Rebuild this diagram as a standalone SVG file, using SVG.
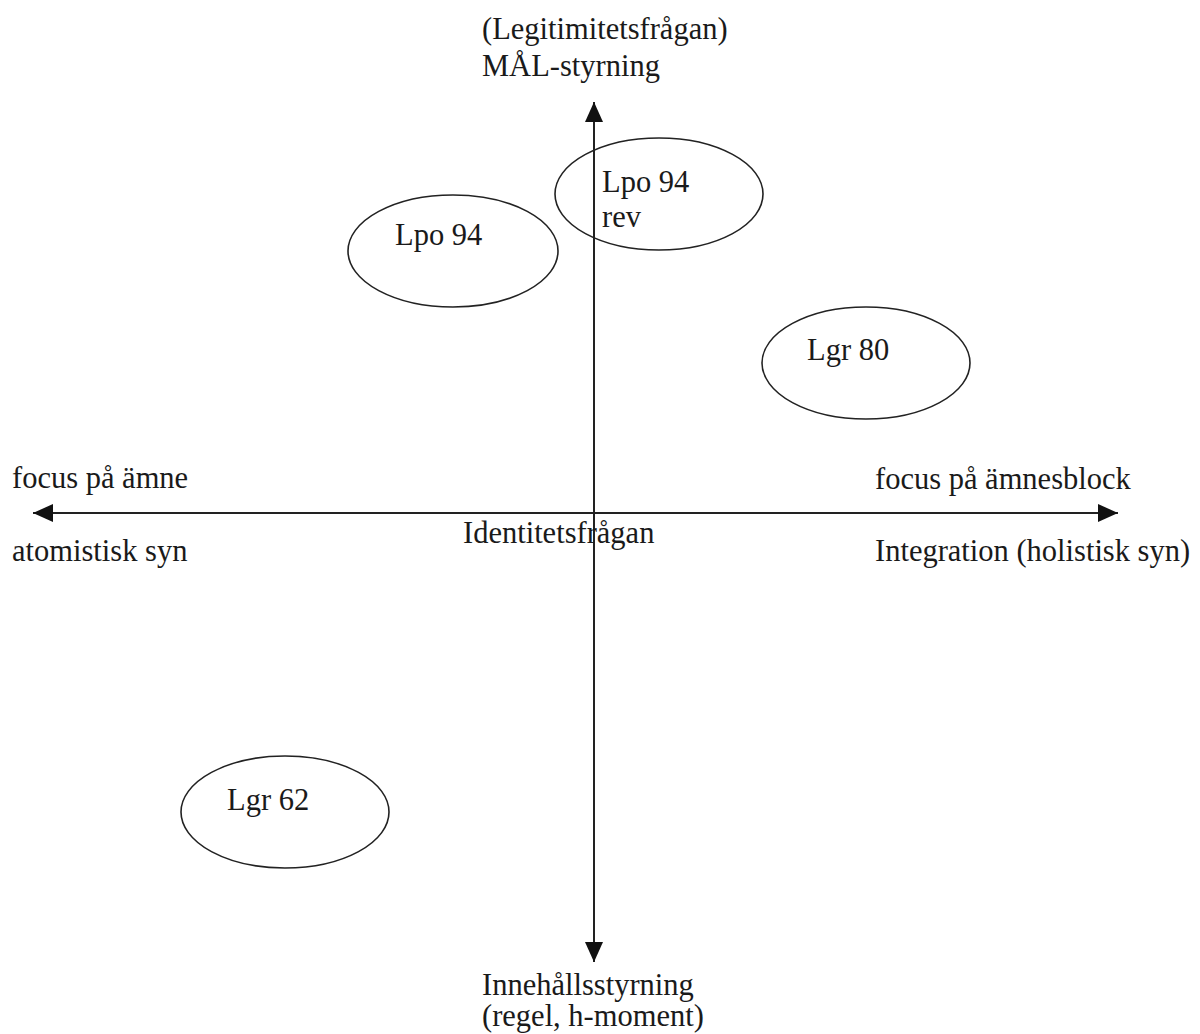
<svg xmlns="http://www.w3.org/2000/svg" width="1200" height="1034" viewBox="0 0 1200 1034">
<style>
text{font-family:"Liberation Serif","Times New Roman",serif;font-size:30.5px;fill:#1a1a1a}
.node ellipse{fill:none;stroke:#222;stroke-width:1.6}
.axis{stroke:#222;stroke-width:2;fill:none}
</style>
<defs>
<marker id="ah" viewBox="0 0 20 18" refX="20" refY="9" markerWidth="20" markerHeight="18" markerUnits="userSpaceOnUse" orient="auto-start-reverse">
<path d="M0,0 L20,9 L0,18 z" fill="#111"/>
</marker>
</defs>
<rect width="1200" height="1034" fill="#fff"/>
<g id="connectors">
<line class="axis" x1="594" y1="962" x2="594" y2="102" marker-start="url(#ah)" marker-end="url(#ah)"/>
<line class="axis" x1="33" y1="513" x2="1118" y2="513" marker-start="url(#ah)" marker-end="url(#ah)"/>
</g>
<g id="labels">
<text x="482" y="39">(Legitimitetsfrågan)</text>
<text x="482" y="76">MÅL-styrning</text>
<text x="12" y="488">focus på ämne</text>
<text x="12" y="561">atomistisk syn</text>
<text x="875" y="489">focus på ämnesblock</text>
<text x="875" y="561">Integration (holistisk syn)</text>
<text x="463" y="543">Identitetsfrågan</text>
<text x="482" y="995">Innehållsstyrning</text>
<text x="482" y="1026">(regel, h-moment)</text>
</g>
<g id="node-lpo94rev" class="node">
<ellipse cx="659" cy="194" rx="104" ry="56"/>
<text x="602" y="192">Lpo 94</text>
<text x="602" y="227">rev</text>
</g>
<g id="node-lpo94" class="node">
<ellipse cx="453" cy="251" rx="105" ry="56"/>
<text x="395" y="245">Lpo 94</text>
</g>
<g id="node-lgr80" class="node">
<ellipse cx="866" cy="363" rx="104" ry="56"/>
<text x="807" y="360">Lgr 80</text>
</g>
<g id="node-lgr62" class="node">
<ellipse cx="285" cy="812" rx="104" ry="56"/>
<text x="227" y="810">Lgr 62</text>
</g>
</svg>
